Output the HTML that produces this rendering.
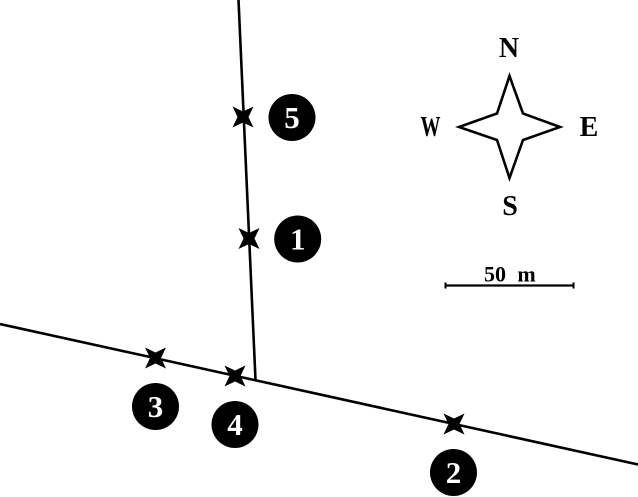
<!DOCTYPE html>
<html>
<head>
<meta charset="utf-8">
<style>
html,body{margin:0;padding:0;background:#fff;width:638px;height:497px;overflow:hidden}
svg{display:block}
text{font-family:"Liberation Serif",serif;font-weight:bold;text-anchor:middle}
</style>
</head>
<body>
<svg width="638" height="497" viewBox="0 0 638 497" xmlns="http://www.w3.org/2000/svg">
<g stroke="#000" stroke-width="2.6" fill="none">
<line x1="238.5" y1="0" x2="255.5" y2="380"/>
<line x1="0" y1="324" x2="638" y2="464.5"/>
<polygon points="509.5,76 523,113.5 560,127 523,140 509.5,178 497,140 459,127 497,113.5" stroke-linejoin="miter" stroke-miterlimit="10" fill="#fff"/>
<line x1="445.5" y1="285.5" x2="573.5" y2="285.5" stroke-width="2.2"/>
<line x1="445.5" y1="282.5" x2="445.5" y2="288.5" stroke-width="2"/>
<line x1="573.5" y1="282.5" x2="573.5" y2="288.5" stroke-width="2"/>
</g>
<g fill="#000">
<polygon transform="translate(243,117)" points="-10.5,-10.5 0,-5.5 10.5,-10.5 5.5,0 10.5,10.5 0,5.5 -10.5,10.5 -5.5,0"/>
<polygon transform="translate(249,238.5)" points="-10.5,-10.5 0,-5.5 10.5,-10.5 5.5,0 10.5,10.5 0,5.5 -10.5,10.5 -5.5,0"/>
<polygon transform="translate(155.5,358)" points="-10.5,-10.5 0,-5.5 10.5,-10.5 5.5,0 10.5,10.5 0,5.5 -10.5,10.5 -5.5,0"/>
<polygon transform="translate(235,376)" points="-10.5,-10.5 0,-5.5 10.5,-10.5 5.5,0 10.5,10.5 0,5.5 -10.5,10.5 -5.5,0"/>
<polygon transform="translate(454,424)" points="-10.5,-10.5 0,-5.5 10.5,-10.5 5.5,0 10.5,10.5 0,5.5 -10.5,10.5 -5.5,0"/>
<circle cx="292" cy="117.5" r="23.5"/>
<circle cx="297.7" cy="239" r="23.5"/>
<circle cx="155.5" cy="406.5" r="23.5"/>
<circle cx="235" cy="424.5" r="23.5"/>
<circle cx="453.5" cy="472.5" r="23.5"/>
</g>
<g fill="#fff" font-size="31">
<text x="292" y="128">5</text>
<text x="297.7" y="249.5">1</text>
<text x="155.5" y="417">3</text>
<text x="235" y="435">4</text>
<text x="453.5" y="483">2</text>
</g>
<g fill="#000" font-size="28">
<text x="509" y="57">N</text>
<text x="510" y="215">S</text>
<text x="430.5" y="136" textLength="20" lengthAdjust="spacingAndGlyphs">W</text>
<text x="589" y="136">E</text>
</g>
<g fill="#000" font-size="22">
<text x="495" y="281.5">50</text>
<text x="526.5" y="281.5">m</text>
</g>
</svg>
</body>
</html>
